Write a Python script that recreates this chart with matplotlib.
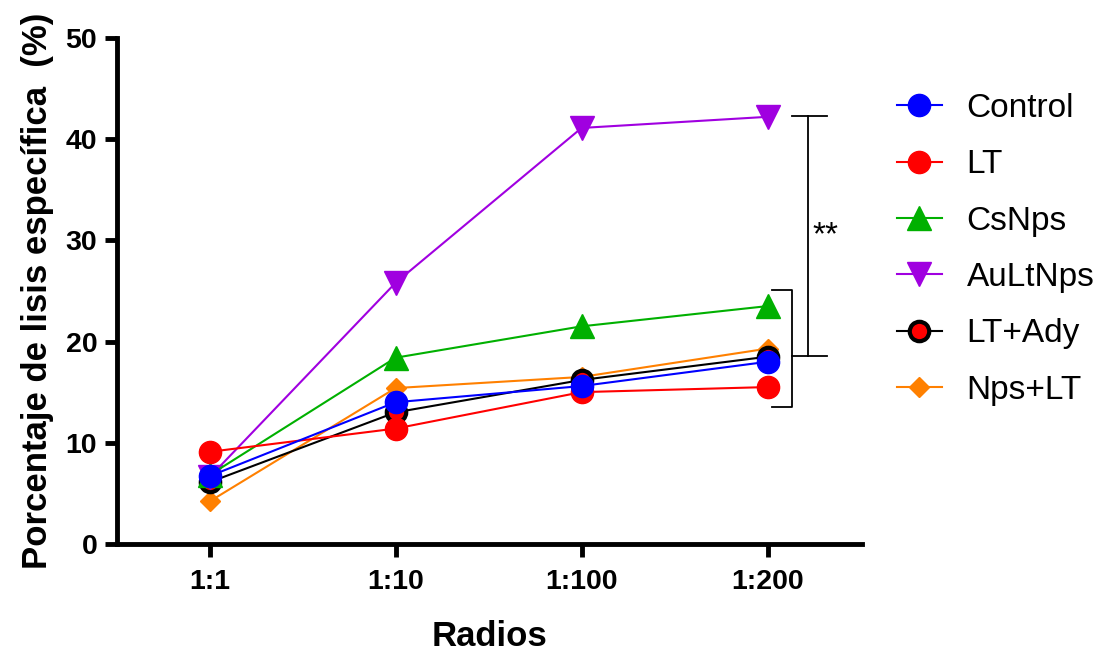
import matplotlib.pyplot as plt
import numpy as np

plt.rcParams['font.family'] = ['Liberation Sans', 'DejaVu Sans']

radios = ['1:1', '1:10', '1:100', '1:200']

control = [6.7, 14.0, 15.6, 18.0]
lt = [9.1, 11.4, 15.0, 15.5]
csnps = [6.8, 18.4, 21.5, 23.5]
aultnps = [6.6, 25.8, 41.1, 42.2]
lt_ady = [6.1, 13.0, 16.2, 18.5]
nps_lt = [4.2, 15.4, 16.5, 19.3]

# bracket annotation (data coords)
br_small = [25.1, 13.5]
br_big = [42.3, 18.6]

x = np.arange(len(radios))

fig = plt.figure(figsize=(11, 6.53), dpi=100)
ax = fig.add_axes([0.106, 0.167, 0.678, 0.775])

series = [
    ('Control', control, dict(color='blue', marker='o', ms=16, mfc='blue', mec='blue')),
    ('LT', lt, dict(color='red', marker='o', ms=16, mfc='red', mec='red')),
    ('CsNps', csnps, dict(color='#00b000', marker='^', ms=17, mfc='#00b000', mec='#00b000')),
    ('AuLtNps', aultnps, dict(color='#a000e0', marker='v', ms=17, mfc='#a000e0', mec='#a000e0')),
    ('LT+Ady', lt_ady, dict(color='black', marker='o', ms=14, mfc='red', mec='black', mew=3)),
    ('Nps+LT', nps_lt, dict(color='#ff8000', marker='D', ms=10.5, mfc='#ff8000', mec='#ff8000')),
]

handles = []
n = len(series)
for i, (name, vals, st) in enumerate(series):
    h, = ax.plot(x, vals, lw=1.5, label=name, zorder=10 + (n - i), **st)
    handles.append(h)

# significance brackets
bx0, bx1, bx2, bx3 = 3.026, 3.134, 3.22, 3.317
ax.plot([bx0, bx1, bx1, bx0], [br_small[0], br_small[0], br_small[1], br_small[1]],
        color='black', lw=1.3, clip_on=False)
ax.plot([bx1, bx2], [br_big[1], br_big[1]], color='black', lw=1.3)
ax.plot([bx2, bx2], br_big, color='black', lw=1.3)
ax.plot([bx2 - 0.09, bx3], [br_big[0], br_big[0]], color='black', lw=1.3)
ax.plot([bx2, bx3], [br_big[1], br_big[1]], color='black', lw=1.3)
ax.text(bx2 + 0.02, 30.4, '**', fontsize=24, ha='left', va='center')

ax.set_xlim(-0.5, 3.51)
ax.set_ylim(0, 50)
ax.set_xticks(x)
ax.set_xticklabels(radios)
ax.set_yticks(np.arange(0, 51, 10))

for s in ['top', 'right']:
    ax.spines[s].set_visible(False)
for s in ['left', 'bottom']:
    ax.spines[s].set_linewidth(3.5)
ax.tick_params(width=3.5, length=9, labelsize=20.5)
ax.tick_params(axis='x', pad=9)
ax.tick_params(axis='y', pad=5)
for lab in ax.get_xticklabels() + ax.get_yticklabels():
    lab.set_fontweight('bold')

ax.set_xlabel('Radios', fontsize=25, fontweight='bold', labelpad=18)
ax.set_ylabel('Porcentaje de lisis específica  (%)', fontsize=25, fontweight='bold', labelpad=8)

fig.legend(handles=handles, loc='upper left', bbox_to_anchor=(0.803, 0.878),
           frameon=False, fontsize=24, handlelength=1.35, labelspacing=0.76,
           handletextpad=0.75, borderaxespad=0)

fig.savefig('out.png', dpi=100)
